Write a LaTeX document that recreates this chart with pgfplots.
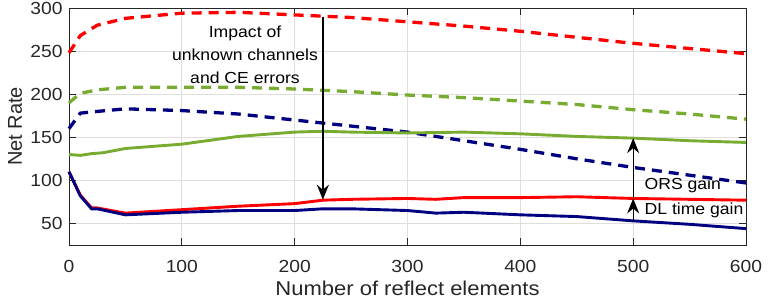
\documentclass[border=0pt]{standalone}
\usepackage{fontspec}
\setmainfont{Liberation Sans}[FakeStretch=1.1]
\newfontfamily\ylabfont{Liberation Sans}
\usepackage{pgfplots}
\pgfplotsset{compat=1.18}
\usetikzlibrary{arrows.meta}
\definecolor{mgreen}{rgb}{0.466,0.674,0.188}
\definecolor{mnavy}{rgb}{0,0,0.5}
\definecolor{axgray}{rgb}{0.15,0.15,0.15}
\begin{document}
\begin{tikzpicture}
\useasboundingbox (-69pt,-55pt) rectangle (699pt,245pt);
\begin{axis}[
  scale only axis,
  width=677pt, height=237pt,
  at={(0,0)}, anchor=south west,
  xmin=0, xmax=600, ymin=25, ymax=300,
  xtick={0,100,...,600}, ytick={50,100,...,300},
  grid=major,
  major grid style={draw=black!13, line width=0.8pt},
  axis line style={draw=axgray, line width=0.9pt},
  tick style={draw=axgray, line width=0.9pt},
  major tick length=7pt,
  tick align=inside,
  /pgf/number format/assume math mode=true,
  ticklabel style={font=\fontsize{17.5}{20}\selectfont, text=axgray},
  xticklabel style={anchor=center, yshift=-21pt},
  yticklabel style={anchor=east, xshift=-3pt},
  xlabel={Number of reflect elements},
  ylabel={\ylabfont Net Rate},
  label style={font=\fontsize{20}{24}\selectfont, text=axgray},
  xlabel style={at={(axis description cs:0.5,0)}, anchor=center, yshift=-43pt},
  ylabel style={at={(axis description cs:0,0.5)}, anchor=center, yshift=54pt},
  clip=false,
]
\addplot[red, line width=3.3pt, dash pattern=on 10pt off 7pt] coordinates {
(0,248) (10,268) (25,280) (50,288) (100,294) (150,295) (200,292) (250,289) (300,284) (350,279) (400,273) (450,266) (500,259) (550,253) (600,247)};
\addplot[mgreen, line width=3.3pt, dash pattern=on 10pt off 7pt] coordinates {
(0,190) (10,201) (25,205) (50,208) (100,208) (150,208) (200,206) (250,203) (300,199) (350,196) (400,192) (450,188) (500,182) (550,177) (600,171)};
\addplot[mnavy, line width=3.3pt, dash pattern=on 10pt off 7pt] coordinates {
(0,160) (10,178) (25,180) (50,183) (100,181) (150,177) (200,170) (250,163) (300,156) (350,146) (400,136) (450,125) (500,115) (550,106) (600,97)};
\addplot[mgreen, line width=2.9pt] coordinates {
(0,130) (10,129) (20,131) (30,132) (50,137) (100,142) (150,151) (200,156) (225,157) (250,156) (300,155) (350,156) (400,154) (450,151) (500,149) (550,146) (600,144)};
\addplot[red, line width=2.9pt] coordinates {
(0,110) (10,83) (20,68) (25,68) (50,62) (100,66) (150,70) (200,73) (225,77) (250,78) (300,79) (325,78) (350,80) (400,80) (450,81) (500,79) (550,78) (600,77)};
\addplot[mnavy, line width=2.9pt] coordinates {
(0,110) (10,82) (20,67) (25,67) (50,60) (100,63) (150,65) (200,65) (225,67) (250,67) (300,65) (325,62) (350,63) (400,60) (450,58) (500,53) (550,49) (600,44)};
\draw[black, line width=1.3pt, -{Stealth[length=15pt,width=12pt,inset=5pt]}] (axis cs:225,290) -- (axis cs:225,77.5);
\draw[black, line width=1.3pt, -{Stealth[length=15pt,width=12pt,inset=5pt]}] (axis cs:500,53) -- (axis cs:500,79);
\draw[black, line width=1.3pt, -{Stealth[length=15pt,width=12pt,inset=5pt]}] (axis cs:500,79) -- (axis cs:500,149);
\node[align=center, font=\fontsize{16}{23}\selectfont, text=black] at (axis cs:156,245.5) {Impact of\\unknown channels\\and CE errors};
\node[anchor=west, font=\fontsize{16}{19}\selectfont, inner sep=0pt] at (axis cs:510,94.7) {ORS gain};
\node[anchor=west, font=\fontsize{16}{19}\selectfont, inner sep=0pt] at (axis cs:510,65.7) {DL time gain};
\end{axis}
\end{tikzpicture}
\end{document}
